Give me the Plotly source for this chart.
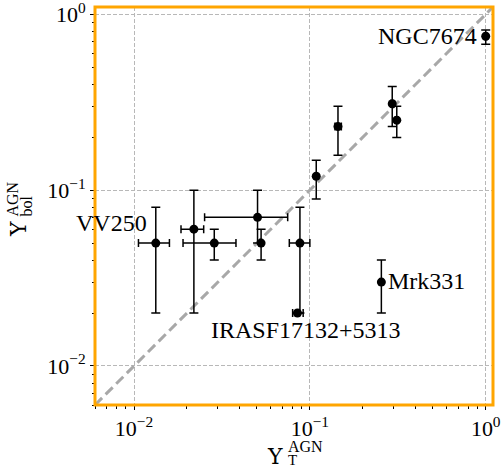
import math
import plotly.graph_objects as go

# ---- data ----
names = ["VV250", "", "", "", "", "", "IRASF17132+5313", "", "", "Mrk331", "", "", "NGC7674"]
x_t = [0.0133, 0.0219, 0.0286, 0.0504, 0.0528, 0.0878, 0.085, 0.1087, 0.1445, 0.255, 0.294, 0.312, 1.0]
x_lo = [0.0106, 0.0185, 0.019, 0.0252, 0.0528, 0.0764, 0.0798, 0.1087, 0.139, 0.251, 0.289, 0.306, 0.985]
x_hi = [0.0159, 0.0249, 0.038, 0.0748, 0.0528, 0.1, 0.0916, 0.1087, 0.151, 0.259, 0.299, 0.318, 1.015]
y_bol = [0.05, 0.06, 0.05, 0.07, 0.05, 0.05, 0.02, 0.12, 0.23, 0.03, 0.31, 0.25, 0.75]
y_lo = [0.02, 0.02, 0.04, 0.05, 0.04, 0.02, 0.02, 0.089, 0.158, 0.02, 0.23, 0.199, 0.675]
y_hi = [0.08, 0.10, 0.06, 0.10, 0.06, 0.08, 0.02, 0.148, 0.30, 0.04, 0.388, 0.30, 0.815]
axis_range = [0.006, 1.1]
tick_vals = [0.01, 0.1, 1]
tick_text = ["10<sup>−2</sup>", "10<sup>−1</sup>", "10<sup>0</sup>"]

SERIF = "Liberation Serif, Times New Roman, serif"
GREEK = "DejaVu Serif, serif"

fig = go.Figure()

# 1:1 line
fig.add_trace(go.Scatter(x=axis_range, y=axis_range, mode="lines",
                         line=dict(color="#a8a8a8", width=3, dash="10px,5px"),
                         hoverinfo="skip", showlegend=False))

for i in range(len(x_t)):
    ex = None
    if x_hi[i] != x_t[i] or x_lo[i] != x_t[i]:
        ex = dict(type="data", symmetric=False, array=[x_hi[i] - x_t[i]],
                  arrayminus=[x_t[i] - x_lo[i]], color="black", thickness=1.5, width=4)
    ey = None
    if y_hi[i] != y_bol[i] or y_lo[i] != y_bol[i]:
        ey = dict(type="data", symmetric=False, array=[y_hi[i] - y_bol[i]],
                  arrayminus=[y_bol[i] - y_lo[i]], color="black", thickness=1.5, width=4.5)
    fig.add_trace(go.Scatter(x=[x_t[i]], y=[y_bol[i]], mode="markers",
                             marker=dict(color="black", size=9),
                             error_x=ex if ex else dict(visible=False),
                             error_y=ey if ey else dict(visible=False),
                             showlegend=False))

# point labels
label_pos = {
    "VV250": dict(xanchor="right", yanchor="middle", xshift=-7, yshift=20),
    "IRASF17132+5313": dict(xanchor="center", yanchor="middle", xshift=9, yshift=-17),
    "Mrk331": dict(xanchor="left", yanchor="middle", xshift=5, yshift=1),
    "NGC7674": dict(xanchor="right", yanchor="middle", xshift=-7, yshift=0),
}
for i, n in enumerate(names):
    if n:
        p = label_pos[n]
        fig.add_annotation(x=math.log10(x_t[i]), y=math.log10(y_bol[i]), xref="x", yref="y",
                           text=n, showarrow=False, font=dict(family=SERIF, size=24, color="black"),
                           **p)

L, R, T, B = 95, 11, 7, 64
W, H = 504, 469
pw, ph = W - L - R, H - T - B


def px(xp):
    return (xp - L) / pw


def py(yp):
    return (H - B - yp) / ph


# axis titles built from pieces (stacked sub/superscripts)
fs = dict(color="black")
fig.add_annotation(x=px(275), y=py(456), xref="paper", yref="paper", text="Υ", showarrow=False,
                   font=dict(size=22, family=GREEK, **fs), xanchor="center", yanchor="middle")
fig.add_annotation(x=px(286), y=py(446), xref="paper", yref="paper", text="AGN", showarrow=False,
                   font=dict(size=16, family=SERIF, **fs), xanchor="left", yanchor="middle")
fig.add_annotation(x=px(286), y=py(460), xref="paper", yref="paper", text="T", showarrow=False,
                   font=dict(size=15, family=SERIF, **fs), xanchor="left", yanchor="middle")

fig.add_annotation(x=px(18), y=py(229), xref="paper", yref="paper", text="Υ", showarrow=False,
                   font=dict(size=22, family=GREEK, **fs), textangle=-90, xanchor="center", yanchor="middle")
fig.add_annotation(x=px(12), y=py(219), xref="paper", yref="paper", text="AGN", showarrow=False,
                   font=dict(size=16, family=SERIF, **fs), textangle=-90, xanchor="center", yanchor="bottom")
fig.add_annotation(x=px(26), y=py(219), xref="paper", yref="paper", text="bol", showarrow=False,
                   font=dict(size=16, family=SERIF, **fs), textangle=-90, xanchor="center", yanchor="bottom")

axis_common = dict(
    type="log", range=[math.log10(axis_range[0]), math.log10(axis_range[1])],
    tickmode="array", tickvals=tick_vals, ticktext=tick_text,
    showgrid=True, gridcolor="#b8b8b8", gridwidth=1, automargin=False,
    griddash="4px,2px", zeroline=False, showline=False, ticklabeloverflow="allow",
    ticks="outside", ticklen=4, tickwidth=1.2, tickcolor="black",
    minor=dict(ticks="outside", ticklen=2.5, tickwidth=1, tickcolor="black", showgrid=False, dtick="D1"),
    tickfont=dict(family=SERIF, size=22, color="black"),
)
fig.update_xaxes(**axis_common)
fig.update_yaxes(**axis_common)

# orange frame
fig.add_shape(type="rect", xref="paper", yref="paper", x0=0, y0=0, x1=1, y1=1,
              line=dict(color="#FFA500", width=3), layer="above")

fig.update_layout(width=W, height=H, margin=dict(l=L, r=R, t=T, b=B),
                  plot_bgcolor="white", paper_bgcolor="white", showlegend=False)

fig.write_html("out.html")
